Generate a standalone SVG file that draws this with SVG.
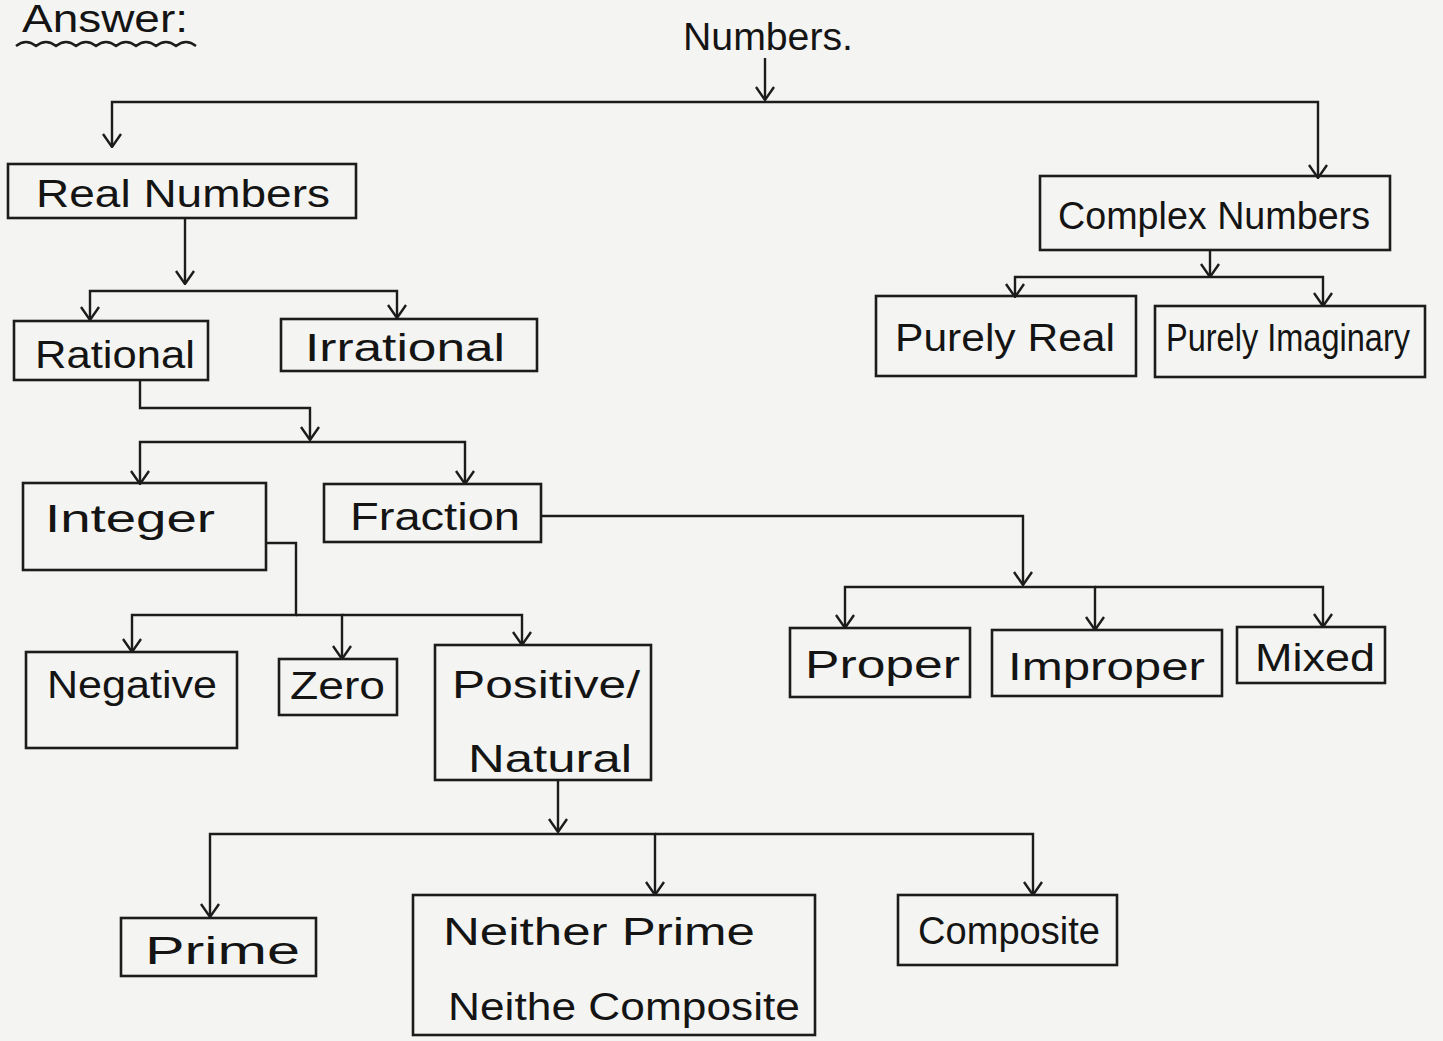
<svg xmlns="http://www.w3.org/2000/svg" width="1443" height="1041" viewBox="0 0 1443 1041">
<style>
.bg{fill:#f4f4f2}
.box{fill:none;stroke:#1c1c1c;stroke-width:2.6}
.ln{fill:none;stroke:#1c1c1c;stroke-width:2.4;stroke-linejoin:miter}
.t{font-family:"Liberation Sans","DejaVu Sans",sans-serif;fill:#141414;font-size:38px}
</style>
<defs>
<marker id="arr" viewBox="-2 -11 16 22" markerWidth="16" markerHeight="22" refX="13" refY="0" orient="auto" markerUnits="userSpaceOnUse">
<path d="M0,-9 L13,0 L0,9" fill="none" stroke="#1c1c1c" stroke-width="2.4"/>
</marker>
</defs>
<rect class="bg" x="0" y="0" width="1443" height="1041"/>

<g id="title">
<text class="t" x="22" y="32" font-size="27" textLength="166" lengthAdjust="spacingAndGlyphs">Answer:</text>
<path class="ln" d="M16,46 q10,-8 20,0 q10,-8 20,0 q10,-8 20,0 q10,-8 20,0 q10,-8 20,0 q10,-8 20,0 q10,-8 20,0 q10,-8 20,0 q10,-8 20,0" stroke-width="2"/>
</g>

<g id="connectors">
<path class="ln" d="M765,58 V100" marker-end="url(#arr)"/>
<path class="ln" d="M765,102 H112 V147" marker-end="url(#arr)"/>
<path class="ln" d="M765,102 H1318 V178" marker-end="url(#arr)"/>
<path class="ln" d="M185,218 V284" marker-end="url(#arr)"/>
<path class="ln" d="M185,291 H90 V320" marker-end="url(#arr)"/>
<path class="ln" d="M185,291 H397 V318" marker-end="url(#arr)"/>
<path class="ln" d="M140,380 V408 H310 V440" marker-end="url(#arr)"/>
<path class="ln" d="M310,442 H140 V484" marker-end="url(#arr)"/>
<path class="ln" d="M310,442 H465 V484" marker-end="url(#arr)"/>
<path class="ln" d="M266,543 H296 V615 H132 V652" marker-end="url(#arr)"/>
<path class="ln" d="M296,615 H342 V659" marker-end="url(#arr)"/>
<path class="ln" d="M342,615 H522 V645" marker-end="url(#arr)"/>
<path class="ln" d="M541,516 H1023 V585" marker-end="url(#arr)"/>
<path class="ln" d="M1023,587 H845 V628" marker-end="url(#arr)"/>
<path class="ln" d="M1023,587 H1095 V630" marker-end="url(#arr)"/>
<path class="ln" d="M1095,587 H1323 V627" marker-end="url(#arr)"/>
<path class="ln" d="M558,780 V832" marker-end="url(#arr)"/>
<path class="ln" d="M558,834 H210 V917" marker-end="url(#arr)"/>
<path class="ln" d="M558,834 H655 V895" marker-end="url(#arr)"/>
<path class="ln" d="M655,834 H1033 V895" marker-end="url(#arr)"/>
<path class="ln" d="M1210,250 V277" marker-end="url(#arr)"/>
<path class="ln" d="M1210,277 H1015 V297" marker-end="url(#arr)"/>
<path class="ln" d="M1210,277 H1323 V306" marker-end="url(#arr)"/>
</g>

<g id="numbers">
<text class="t" x="683" y="50" textLength="170" lengthAdjust="spacingAndGlyphs">Numbers.</text>
</g>

<g id="real-numbers">
<rect class="box" x="8" y="164" width="348" height="54"/>
<text class="t" x="36" y="207" textLength="294" lengthAdjust="spacingAndGlyphs">Real Numbers</text>
</g>

<g id="rational">
<rect class="box" x="14" y="321" width="194" height="59"/>
<text class="t" x="35" y="368" textLength="160" lengthAdjust="spacingAndGlyphs">Rational</text>
</g>

<g id="irrational">
<rect class="box" x="281" y="319" width="256" height="52"/>
<text class="t" x="305" y="361" textLength="200" lengthAdjust="spacingAndGlyphs">Irrational</text>
</g>

<g id="integer">
<rect class="box" x="23" y="483" width="243" height="87"/>
<text class="t" x="45" y="532" textLength="170" lengthAdjust="spacingAndGlyphs">Integer</text>
</g>

<g id="fraction">
<rect class="box" x="324" y="484" width="217" height="58"/>
<text class="t" x="350" y="530" textLength="170" lengthAdjust="spacingAndGlyphs">Fraction</text>
</g>

<g id="negative">
<rect class="box" x="26" y="652" width="211" height="96"/>
<text class="t" x="47" y="698" textLength="170" lengthAdjust="spacingAndGlyphs">Negative</text>
</g>

<g id="zero">
<rect class="box" x="279" y="659" width="118" height="56"/>
<text class="t" x="290" y="699" font-size="34" textLength="95" lengthAdjust="spacingAndGlyphs">Zero</text>
</g>

<g id="positive-natural">
<rect class="box" x="435" y="645" width="216" height="135"/>
<text class="t" x="452" y="698" textLength="188" lengthAdjust="spacingAndGlyphs">Positive/</text>
<text class="t" x="468" y="772" textLength="164" lengthAdjust="spacingAndGlyphs">Natural</text>
</g>

<g id="proper">
<rect class="box" x="790" y="628" width="180" height="69"/>
<text class="t" x="805" y="678" textLength="155" lengthAdjust="spacingAndGlyphs">Proper</text>
</g>

<g id="improper">
<rect class="box" x="992" y="630" width="230" height="66"/>
<text class="t" x="1008" y="680" textLength="197" lengthAdjust="spacingAndGlyphs">Improper</text>
</g>

<g id="mixed">
<rect class="box" x="1237" y="627" width="148" height="56"/>
<text class="t" x="1255" y="671" textLength="120" lengthAdjust="spacingAndGlyphs">Mixed</text>
</g>

<g id="prime">
<rect class="box" x="121" y="918" width="195" height="58"/>
<text class="t" x="145" y="964" textLength="155" lengthAdjust="spacingAndGlyphs">Prime</text>
</g>

<g id="neither">
<rect class="box" x="413" y="895" width="402" height="140"/>
<text class="t" x="443" y="945" textLength="312" lengthAdjust="spacingAndGlyphs">Neither Prime</text>
<text class="t" x="448" y="1020" textLength="352" lengthAdjust="spacingAndGlyphs">Neithe Composite</text>
</g>

<g id="composite">
<rect class="box" x="898" y="895" width="219" height="70"/>
<text class="t" x="918" y="944" textLength="182" lengthAdjust="spacingAndGlyphs">Composite</text>
</g>

<g id="complex-numbers">
<rect class="box" x="1040" y="176" width="350" height="74"/>
<text class="t" x="1058" y="229" textLength="312" lengthAdjust="spacingAndGlyphs">Complex Numbers</text>
</g>

<g id="purely-real">
<rect class="box" x="876" y="296" width="260" height="80"/>
<text class="t" x="895" y="351" textLength="220" lengthAdjust="spacingAndGlyphs">Purely Real</text>
</g>

<g id="purely-imaginary">
<rect class="box" x="1155" y="306" width="270" height="71"/>
<text class="t" x="1166" y="351" font-size="29" textLength="244" lengthAdjust="spacingAndGlyphs">Purely Imaginary</text>
</g>
</svg>
